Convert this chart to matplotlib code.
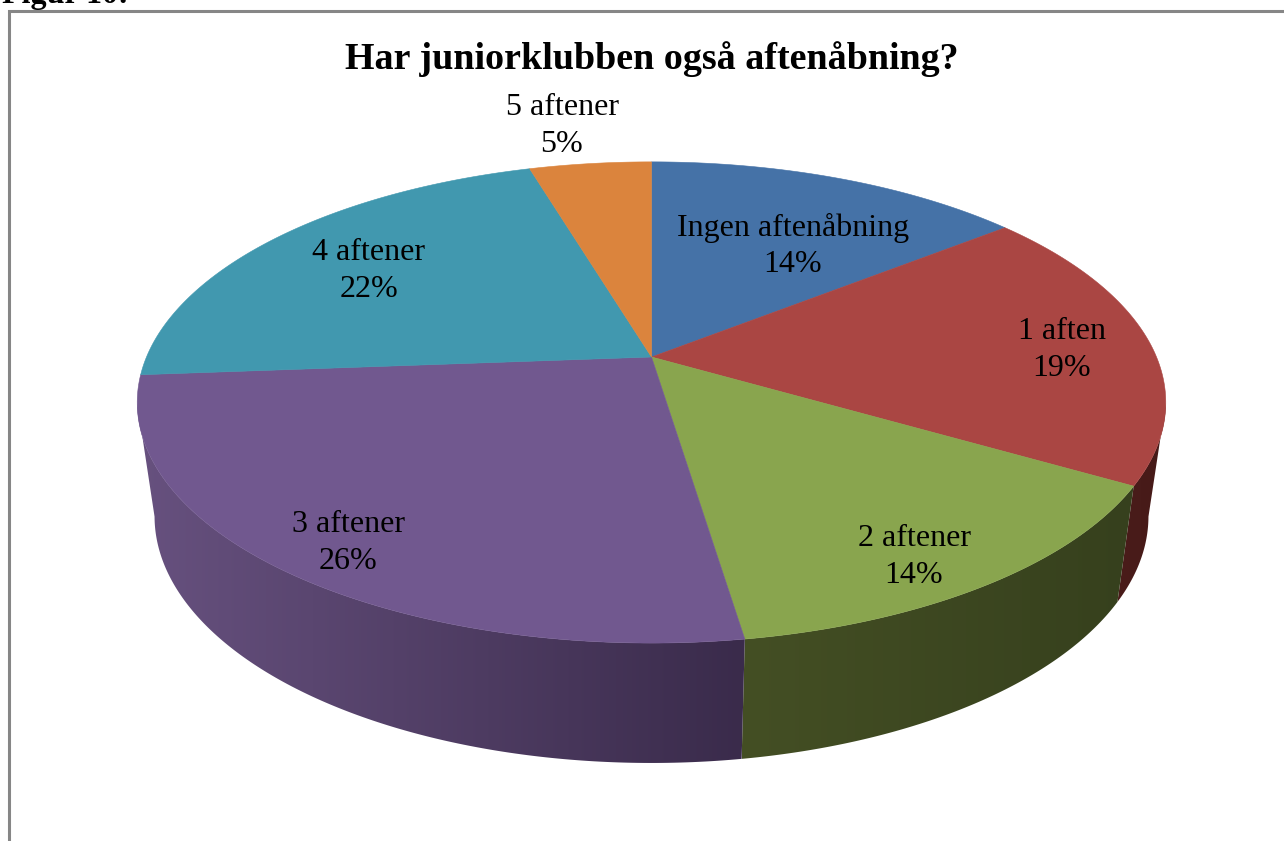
import matplotlib
matplotlib.use("Agg")
import matplotlib.pyplot as plt
from matplotlib.patches import Polygon
import numpy as np

# slices, clockwise from the top
categories = ['Ingen aftenåbning', '1 aften', '2 aftener', '3 aftener', '4 aftener', '5 aftener']
values = [14.3, 19.1, 14.2, 26.2, 21.6, 4.6]

top_colors = ['#4572a7', '#aa4643', '#89a54e', '#71588f', '#4198af', '#db843d']
# wall colours at the right and left end of each slice
wall_colors = {1: ('#461a18', '#4a1c1a'), 2: ('#36401d', '#444f24'), 3: ('#3a2b4b', '#67517f')}
label_xy = [(793, 246), (1062, 350), (914, 557), (348, 543), (369, 271), (562, 126)]

plt.rcParams['font.family'] = ['Liberation Serif', 'DejaVu Serif']

K = 0.189


def project(theta, a, b, y0):
    # perspective view of a flat circle, theta in degrees clockwise from top
    t = np.radians(theta)
    d = 1 + K * np.cos(t)
    return 651.5 + a * np.sin(t) / d, y0 - b * np.cos(t) / d


def top_rim(theta):
    return project(theta, 505, 232, 357)


def low_rim(theta):
    return project(theta, 488, 238, 469.5)


fig = plt.figure(figsize=(12.84, 8.41), dpi=100)
ax = fig.add_axes([0, 0, 1, 1])

# chart frame
ax.plot([8.5, 8.5, 1284], [841, 10.7, 10.7], color='#868686', lw=2.2, solid_joinstyle='miter')

edges = np.concatenate([[0], np.cumsum(values)]) * 3.6

# side wall, only the part that faces the viewer
WALL_START, WALL_END = 101, 259
for i, col in wall_colors.items():
    th = np.linspace(max(edges[i], WALL_START), min(edges[i + 1], WALL_END), 150)
    x0, y0 = top_rim(th)
    x1, y1 = low_rim(th[::-1])
    xs, ys = np.r_[x0, x1], np.r_[y0, y1]
    right = np.array(matplotlib.colors.to_rgb(col[0]))
    left = np.array(matplotlib.colors.to_rgb(col[1]))
    ramp = np.linspace(0, 1, 256)[:, None]
    img = (left * (1 - ramp) + right * ramp)[None, :, :]
    im = ax.imshow(img, extent=[xs.min(), xs.max(), ys.max(), ys.min()], aspect='auto',
                   interpolation='bilinear', zorder=2)
    im.set_clip_path(Polygon(np.c_[xs, ys], transform=ax.transData))

# top face
for i, col in enumerate(top_colors):
    th = np.linspace(edges[i], edges[i + 1], 120)
    x, y = top_rim(th)
    ax.fill(np.r_[651.5, x], np.r_[357, y], color=col, lw=0.4, zorder=3)

for name, v, (x, y) in zip(categories, values, label_xy):
    ax.text(x, y, f"{name}\n{v:.0f}%", ha='center', va='center', fontsize=23,
            linespacing=1.33, color='black', zorder=4)

ax.text(652, 59, 'Har juniorklubben også aftenåbning?', ha='center', va='center',
        fontsize=27.4, fontweight='bold', color='black', zorder=4)
ax.text(2, 3, 'Figur 10:', ha='left', va='baseline', fontsize=23, fontweight='bold', color='black')

ax.set_xlim(0, 1284)
ax.set_ylim(841, 0)
ax.axis('off')

fig.savefig('out.png', dpi=100)
